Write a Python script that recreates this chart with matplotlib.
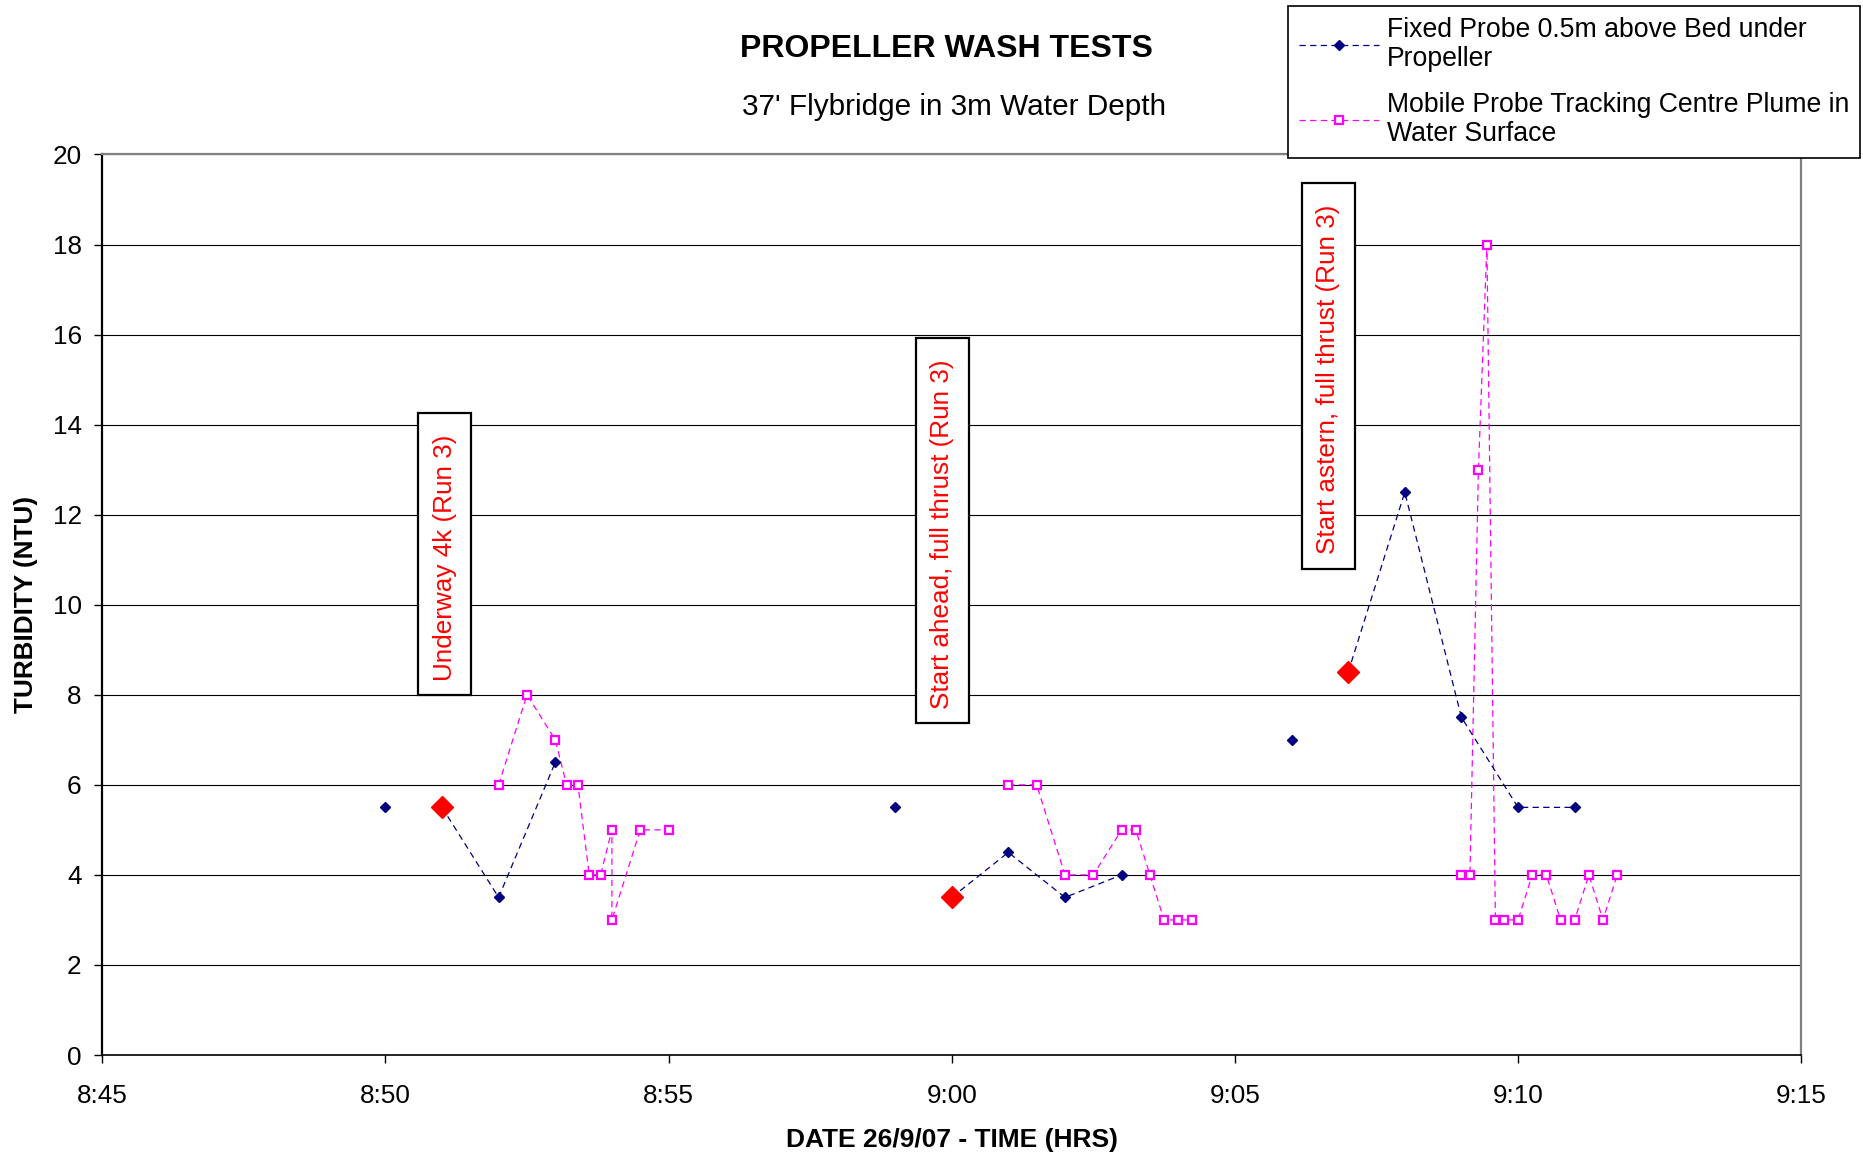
import numpy as np
import matplotlib.pyplot as plt
from matplotlib.lines import Line2D
from matplotlib.ticker import MultipleLocator

plt.rcParams['font.family'] = ['Liberation Sans', 'DejaVu Sans']

# sonda fixa 0.5m acima do fundo
fixed_time = ["8:50", "8:51", "8:52", "8:53", "8:59", "9:00", "9:01", "9:02", "9:03",
              "9:06", "9:07", "9:08", "9:09", "9:10", "9:11"]
fixed_ntu = [5.5, 5.5, 3.5, 6.5, 5.5, 3.5, 4.5, 3.5, 4.0, 7.0, 8.5, 12.5, 7.5, 5.5, 5.5]
fixed_run = [0, 1, 1, 1, 2, 3, 3, 3, 3, 4, 5, 5, 5, 5, 5]

# sonda movel na superficie
mobile_time = ["8:52:00", "8:52:30", "8:53:00", "8:53:12", "8:53:24", "8:53:36", "8:53:48",
               "8:54:00", "8:54:00", "8:54:30", "8:55:00",
               "9:01:00", "9:01:30", "9:02:00", "9:02:30", "9:03:00", "9:03:15", "9:03:30",
               "9:03:45", "9:04:00", "9:04:15",
               "9:09:00", "9:09:09", "9:09:18", "9:09:27", "9:09:36", "9:09:45", "9:10:00",
               "9:10:15", "9:10:30", "9:10:45", "9:11:00", "9:11:15", "9:11:30", "9:11:45"]
mobile_ntu = [6, 8, 7, 6, 6, 4, 4, 5, 3, 5, 5,
              6, 6, 4, 4, 5, 5, 4, 3, 3, 3,
              4, 4, 13, 18, 3, 3, 3, 4, 4, 3, 3, 4, 3, 4]
mobile_run = [0, 0, 0, 0, 0, 0, 0, 0, 0, 0, 0,
              1, 1, 1, 1, 1, 1, 1, 1, 1, 1,
              2, 2, 2, 2, 2, 2, 2, 2, 2, 2, 2, 2, 2, 2]

# inicio de cada manobra
event_time = ["8:51", "9:00", "9:07"]
event_ntu = [5.5, 3.5, 8.5]
event_text = ["Underway 4k (Run 3)", "Start ahead, full thrust (Run 3)",
              "Start astern, full thrust (Run 3)"]
event_label_time = ["8:51:03", "8:59:50", "9:06:39"]
event_label_ntu = [11.13, 11.65, 15.08]

tick_time = ["8:45", "8:50", "8:55", "9:00", "9:05", "9:10", "9:15"]


def minutos(t):
    p = [int(v) for v in t.split(':')]
    if len(p) == 2:
        p.append(0)
    return p[0] * 60 + p[1] + p[2] / 60.0


fx = np.array([minutos(t) for t in fixed_time])
fy = np.array(fixed_ntu)
fr = np.array(fixed_run)
mx = np.array([minutos(t) for t in mobile_time])
my = np.array(mobile_ntu, dtype=float)
mr = np.array(mobile_run)

navy = '#000080'
pink = '#FF00FF'
fs = 18.8

fig = plt.figure(figsize=(18.63, 11.56), dpi=100)
ax = fig.add_axes([0.05486, 0.08737, 0.91198, 0.77898])

for r in np.unique(mr):
    m = mr == r
    ax.plot(mx[m], my[m], color=pink, lw=0.9, dashes=(5, 3.5), marker='s', ms=6,
            mfc='white', mec=pink, mew=1.6, zorder=3)

for r in np.unique(fr):
    m = fr == r
    ax.plot(fx[m], fy[m], color=navy, lw=0.9, dashes=(5, 3.5), marker='D', ms=5.2,
            mfc=navy, mec=navy, zorder=4)

ex = [minutos(t) for t in event_time]
ax.plot(ex, event_ntu, ls='none', marker='D', ms=10.8, mfc='red', mec='red', zorder=5)

# caixas de texto (espaco no fim da a folga de cima, como no Excel)
for t, v, s in zip(event_label_time, event_label_ntu, event_text):
    ax.text(minutos(t), v, s + ' ', rotation=90, ha='center', va='center', color='red',
            fontsize=fs, zorder=6,
            bbox=dict(boxstyle='square,pad=0.55', fc='white', ec='black', lw=1.6))

t0 = minutos(tick_time[0])
t1 = minutos(tick_time[-1])
ax.set_xlim(t0, t1)
ax.set_ylim(0, 20)
ax.set_xticks([minutos(t) for t in tick_time])
ax.set_xticklabels(tick_time)
ax.yaxis.set_major_locator(MultipleLocator(2))

ax.grid(axis='y', color='black', lw=0.8)
ax.set_axisbelow(True)

ax.spines['left'].set_linewidth(1.6)
ax.spines['bottom'].set_linewidth(1.2)
for s in ['top', 'right']:
    ax.spines[s].set_color('#808080')
    ax.spines[s].set_linewidth(1.6)

ax.tick_params(axis='both', direction='out', length=5.8, width=1, labelsize=fs)
ax.tick_params(axis='y', pad=9)
ax.tick_params(axis='x', pad=15)

ax.set_xlabel('DATE 26/9/07 - TIME (HRS)', fontsize=19, fontweight='bold', va='center')
ax.xaxis.set_label_coords(0.5, -0.0945)
ax.set_ylabel('TURBIDITY (NTU)', fontsize=18.8, fontweight='bold', va='center')
ax.yaxis.set_label_coords(-0.0447, 0.5)

fig.text(0.508, 0.958, 'PROPELLER WASH TESTS', fontsize=23, fontweight='bold',
         ha='center', va='center')
fig.text(0.512, 0.9075, "37' Flybridge in 3m Water Depth", fontsize=21.4,
         ha='center', va='center')

handles = [
    Line2D([], [], color=navy, lw=0.9, dashes=(5, 3.5), marker='D', ms=5.2, mfc=navy, mec=navy),
    Line2D([], [], color=pink, lw=0.9, dashes=(5, 3.5), marker='s', ms=6, mfc='white',
           mec=pink, mew=1.6),
]
labels = ['Fixed Probe 0.5m above Bed under\nPropeller',
          'Mobile Probe Tracking Centre Plume in\nWater Surface']
leg = fig.legend(handles, labels, loc='upper left', bbox_to_anchor=(0.6914, 0.9948),
                 fontsize=19.2, frameon=True, fancybox=False, framealpha=1,
                 edgecolor='black', borderpad=0.4, labelspacing=0.77,
                 handlelength=3.0, handletextpad=0.32, borderaxespad=0)
leg.get_frame().set_linewidth(1.2)
for txt in leg.get_texts():
    txt.set_linespacing(1.15)

fig.savefig('out.png', dpi=100)
